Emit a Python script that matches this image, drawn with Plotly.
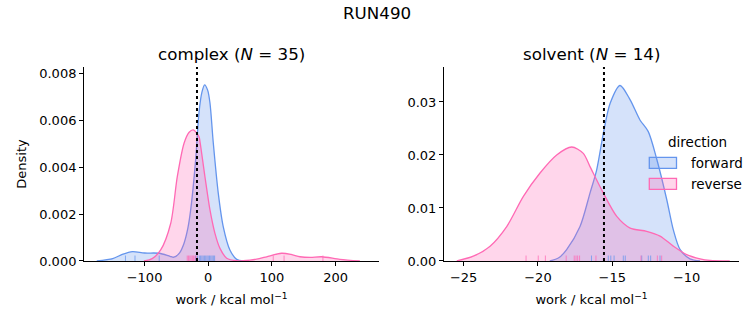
import plotly.graph_objects as go

# ---- data ----
# complex leg: KDE curves (work, density)
complex_fwd_x = [-175, -150, -135, -119, -100, -77, -60, -54, -45, -38, -32, -27.6, -19.8, -14.6, -10, -5.7, -1, 2.7, 7.9, 15.7, 23.5, 34, 44.6, 55]
complex_fwd_d = [0, 0.0001, 0.00028, 0.0004, 0.00034, 0.00033, 0.0002, 0.00016, 0.00035, 0.00076, 0.0014, 0.00218, 0.00432, 0.00632, 0.0072, 0.00752, 0.0073, 0.00675, 0.00504, 0.0029, 0.00147, 0.00047, 0.00007, 0]
complex_rev_x = [-101, -88, -74.7, -59, -48.6, -38, -30, -23.5, -14.6, -13, -5.2, 2.7, 10.5, 18.4, 28.9, 44.6, 65.5, 80, 91.7, 115, 130, 144, 160, 178, 206.7, 238]
complex_rev_d = [0, 0.0001, 0.00047, 0.0016, 0.0036, 0.00503, 0.0055, 0.0056, 0.00532, 0.0051, 0.0036, 0.00218, 0.00118, 0.00054, 0.00012, 0.00001, 0.00004, 0.0001, 0.00018, 0.00033, 0.00028, 0.00018, 0.00015, 0.00018, 0.00007, 0]
# solvent leg
solvent_fwd_x = [-19.2, -18.6, -18.07, -17.17, -16.5, -16.05, -15.6, -15.15, -14.48, -13.8, -13.14, -12.58, -12.0, -11.34, -10.9, -10.45, -9.78, -9.1]
solvent_fwd_d = [0, 0.0006, 0.00216, 0.0065, 0.0128, 0.0172, 0.0241, 0.0297, 0.0331, 0.0304, 0.0266, 0.0244, 0.0191, 0.0116, 0.0059, 0.0022, 0.0004, 0]
solvent_rev_x = [-25.46, -24.35, -23.22, -22.1, -20.98, -19.86, -18.74, -17.73, -16.95, -16.5, -15.6, -14.7, -13.8, -12.69, -11.79, -10.9, -10.0, -9.1, -8.43, -7.1]
solvent_rev_d = [0, 0.0009, 0.0028, 0.0065, 0.0122, 0.0166, 0.0200, 0.0215, 0.0203, 0.0178, 0.0128, 0.0084, 0.0062, 0.0056, 0.0047, 0.0028, 0.0012, 0.0004, 0.0001, 0]

# rug samples (individual work values)
complex_fwd_rug = [-130, -115, -77, -20, -17, -14, -12, -10, -8, -6, -4, -2, 0, 2, 4, 6, 8, 10]
complex_rev_rug = [-33, -31, -29, -27, -25, -23, -21, -19, 102, 119, 180]
solvent_fwd_rug = [-16.4, -15.27, -15.1, -14.88, -14.26, -14.13, -13.02, -12.58, -12.42, -11.79]
solvent_rev_rug = [-20.8, -19.98, -19.5, -18.1, -17.56, -17.44, -17.33, -17.2, -16.1, -13.07, -11.97, -11.68]

# free energy estimates (dotted lines)
complex_dg = -17.7
solvent_dg = -15.56

titles = ["complex (<i>N</i> = 35)", "solvent (<i>N</i> = 14)"]
suptitle = "RUN490"
xlabel = "work / kcal mol<sup>−1</sup>"
ylabel = "Density"
legend_title = "direction"
directions = ["forward", "reverse"]

# ---- style ----
FONT = "DejaVu Sans"
W, H = 753, 325
line_col = {"forward": "#6495ED", "reverse": "#FF69B4"}
fill_col = {"forward": "rgba(100,149,237,0.27)", "reverse": "rgba(255,105,180,0.27)"}
rug_col = {"forward": "rgba(100,149,237,0.75)", "reverse": "rgba(255,105,180,0.75)"}

fig = go.Figure()

panels = [
    ("x", "y", {"forward": (complex_fwd_x, complex_fwd_d), "reverse": (complex_rev_x, complex_rev_d)},
     {"forward": complex_fwd_rug, "reverse": complex_rev_rug}, complex_dg),
    ("x2", "y2", {"forward": (solvent_fwd_x, solvent_fwd_d), "reverse": (solvent_rev_x, solvent_rev_d)},
     {"forward": solvent_fwd_rug, "reverse": solvent_rev_rug}, solvent_dg),
]

shapes = []
for i, (xa, ya, curves, rugs, dg) in enumerate(panels):
    for d in directions:
        xs, ds = curves[d]
        fig.add_trace(go.Scatter(
            x=xs, y=ds, xaxis=xa, yaxis=ya, mode="lines",
            line=dict(color=line_col[d], width=1.3, shape="spline", smoothing=0.8),
            fill="tozeroy", fillcolor=fill_col[d],
            name=d, showlegend=False,
        ))
    yref = ya + " domain"
    for d in directions:
        for v in rugs[d]:
            shapes.append(dict(type="line", xref=xa, yref=yref, x0=v, x1=v, y0=0, y1=0.028,
                               line=dict(color=rug_col[d], width=1)))
    shapes.append(dict(type="line", xref=xa, yref=yref, x0=dg, x1=dg, y0=0, y1=1,
                       line=dict(color="black", width=2, dash="dot")))

def px(x):
    return x / W

def py(y):
    return 1 - y / H

annotations = [
    dict(text=suptitle, x=0.5, y=py(13), xref="paper", yref="paper", xanchor="center",
         yanchor="middle", showarrow=False, font=dict(size=16.7)),
    dict(text=titles[0], x=(0.1116 + 0.5033) / 2, y=py(54), xref="paper", yref="paper",
         xanchor="center", yanchor="middle", showarrow=False, font=dict(size=16.7)),
    dict(text=titles[1], x=(0.5896 + 0.9814) / 2, y=py(54), xref="paper", yref="paper",
         xanchor="center", yanchor="middle", showarrow=False, font=dict(size=16.7)),
    dict(text=legend_title, x=px(665.5), y=py(141.5), xref="paper", yref="paper",
         xanchor="left", yanchor="middle", showarrow=False, font=dict(size=13.5)),
]
# manual legend (patches + labels)
for k, d in enumerate(directions):
    y0 = 157.3 + 21 * k
    shapes.append(dict(type="rect", xref="paper", yref="paper", x0=px(649.3), x1=px(676.5),
                       y0=py(y0), y1=py(y0 + 11), fillcolor=fill_col[d],
                       line=dict(color=line_col[d], width=1.3)))
    annotations.append(dict(text=d, x=px(688.5), y=py(y0 + 5.5), xref="paper", yref="paper",
                            xanchor="left", yanchor="middle", showarrow=False,
                            font=dict(size=13.5)))

axis_common = dict(showline=True, linecolor="black", linewidth=1, ticks="outside",
                   ticklen=4, tickwidth=1, tickcolor="black", showgrid=False, zeroline=False,
                   automargin=False, tickfont=dict(family=FONT, size=13, color="black"))

fig.update_layout(
    template="none",
    width=W, height=H,
    margin=dict(l=0, r=0, t=0, b=0),
    paper_bgcolor="white", plot_bgcolor="white",
    font=dict(family=FONT, size=13, color="black"),
    showlegend=False,
    shapes=shapes,
    annotations=annotations,
    xaxis=dict(domain=[0.1116, 0.5033], range=[-195, 268], tickvals=[-100, 0, 100, 200],
               anchor="y", title=dict(text=xlabel, font=dict(size=13), standoff=11), **axis_common),
    yaxis=dict(domain=[0.197, 0.794], range=[0, 0.00829], tickvals=[0, 0.002, 0.004, 0.006, 0.008],
               anchor="x", tickformat=".3f", title=dict(text=ylabel, font=dict(size=13), standoff=9),
               **axis_common),
    xaxis2=dict(domain=[0.5896, 0.9814], range=[-26.32, -6.48], tickvals=[-25, -20, -15, -10],
                anchor="y2", title=dict(text=xlabel, font=dict(size=13), standoff=11), **axis_common),
    yaxis2=dict(domain=[0.197, 0.794], range=[0, 0.0366], tickvals=[0, 0.01, 0.02, 0.03],
                tickformat=".2f", anchor="x2", **axis_common),
)

fig.write_html("out.html", config={"displayModeBar": False},
               post_script="document.body.style.margin='0';document.body.style.overflow='hidden';")
